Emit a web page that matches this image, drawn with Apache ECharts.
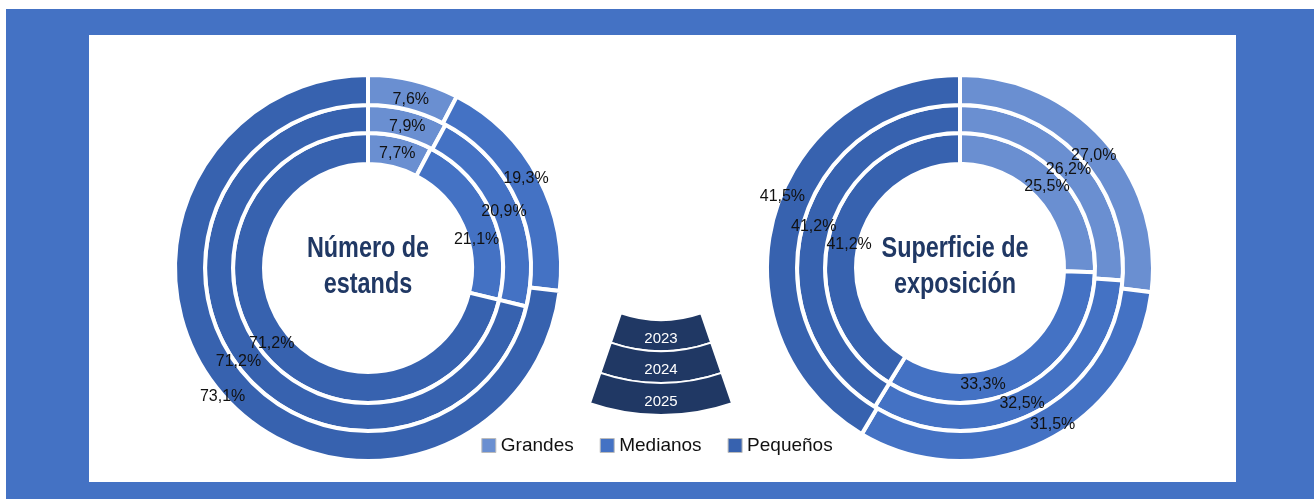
<!DOCTYPE html>
<html>
<head>
<meta charset="utf-8">
<script src="https://cdn.jsdelivr.net/npm/echarts@6/dist/echarts.min.js"></script>
<style>
html, body { margin: 0; padding: 0; background: #fff; }
#main { width: 1314px; height: 499px; }
</style>
</head>
<body>
<div id="main"></div>
<script>
var chartDom = document.getElementById('main');
var myChart = echarts.init(chartDom);

// datos (%)
var categories = ['Grandes', 'Medianos', 'Pequeños'];
var years = ['2023', '2024', '2025'];
var estands2023 = [7.7, 21.1, 71.2];
var estands2024 = [7.9, 20.9, 71.2];
var estands2025 = [7.6, 19.3, 73.1];
var superficie2023 = [25.5, 33.3, 41.2];
var superficie2024 = [26.2, 32.5, 41.2];
var superficie2025 = [27.0, 31.5, 41.5];

var colors = ['#6a8fd1', '#4472c4', '#3762af'];
var navy = '#203864';
var font = "'Liberation Sans', Arial, sans-serif";

// anillos: interior = 2023, exterior = 2025
var ringRadii = [[104, 135], [135, 163], [163, 193]];

// pequeños ajustes de posición de etiquetas (como en el original)
var offsetsEstands = [
    [[0, 5], [-3, 22], [0, 0]],
    [[2, 6], [-3, 5], [-10, 0]],
    [[0, 7], [-2, -5], [-10, 8]]
];
var offsetsSuperficie = [
    [[-1, 4], [-35, 9], [7, 10]],
    [[-3, 5], [-7, 0], [0, 0]],
    [[-2, 7], [13, -6], [-3, -24]]
];

function fmt(v) {
    return v.toFixed(1).replace('.', ',') + '%';
}

function ring(name, values, center, radius, offsets) {
    return {
        name: name,
        type: 'pie',
        center: center,
        radius: radius,
        startAngle: 90,
        clockwise: true,
        avoidLabelOverlap: false,
        silent: true,
        label: {
            show: true,
            position: 'inside',
            formatter: function (p) { return fmt(p.value); },
            color: '#111',
            fontSize: 16,
            fontFamily: font
        },
        labelLayout: { hideOverlap: false },
        labelLine: { show: false },
        itemStyle: { borderColor: '#fff', borderWidth: 4 },
        data: categories.map(function (c, i) {
            return {
                name: c,
                value: values[i],
                itemStyle: { color: colors[i] },
                label: { offset: offsets[i] }
            };
        })
    };
}

// clave de años (cuña)
var keyRadii = [[123, 154], [154, 186], [186, 218]];
function keyRing(i) {
    return {
        type: 'pie',
        center: [661, 197],
        radius: keyRadii[i],
        startAngle: 289,
        clockwise: true,
        silent: true,
        avoidLabelOverlap: false,
        labelLayout: { hideOverlap: false },
        labelLine: { show: false },
        data: [
            {
                name: years[i], value: 38,
                itemStyle: { color: navy, borderColor: '#fff', borderWidth: 2 },
                label: { show: true, position: 'inside', formatter: '{b}', color: '#fff', fontSize: 15, fontFamily: font }
            },
            {
                name: 'resto', value: 322,
                itemStyle: { color: 'rgba(0,0,0,0)' },
                label: { show: false }
            }
        ]
    };
}

var estands = [estands2023, estands2024, estands2025];
var superficie = [superficie2023, superficie2024, superficie2025];
var series = [];
for (var i = 0; i < 3; i++) {
    series.push(ring('Número de estands ' + years[i], estands[i], [368, 268], ringRadii[i], offsetsEstands[i]));
}
for (var j = 0; j < 3; j++) {
    series.push(ring('Superficie de exposición ' + years[j], superficie[j], [960, 268], ringRadii[j], offsetsSuperficie[j]));
}
for (var k = 0; k < 3; k++) {
    series.push(keyRing(k));
}

var titleStyle = {
    fill: navy,
    fontSize: 30,
    fontWeight: 'bold',
    fontFamily: font,
    align: 'center',
    verticalAlign: 'middle',
    lineHeight: 36
};

option = {
    animation: false,
    color: colors,
    graphic: [
        { type: 'rect', z: -10, shape: { x: 6, y: 9, width: 1308, height: 490 }, style: { fill: '#4472c4' } },
        { type: 'rect', z: -9, shape: { x: 89, y: 35, width: 1147, height: 447 }, style: { fill: '#fff' } },
        // títulos centrales, estrechados para imitar la fuente condensada
        { type: 'text', z: 10, x: 368, y: 267, scaleX: 0.78, style: Object.assign({ text: 'Número de\nestands' }, titleStyle) },
        { type: 'text', z: 10, x: 955, y: 267, scaleX: 0.78, style: Object.assign({ text: 'Superficie de\nexposición' }, titleStyle) }
    ],
    legend: {
        data: categories,
        left: 'center',
        top: 431,
        itemWidth: 14,
        itemHeight: 14,
        itemGap: 26,
        icon: 'rect',
        itemStyle: { borderColor: '#bbb', borderWidth: 1 },
        textStyle: { color: '#111', fontSize: 19, fontFamily: font }
    },
    series: series
};

myChart.setOption(option);
</script>
</body>
</html>
